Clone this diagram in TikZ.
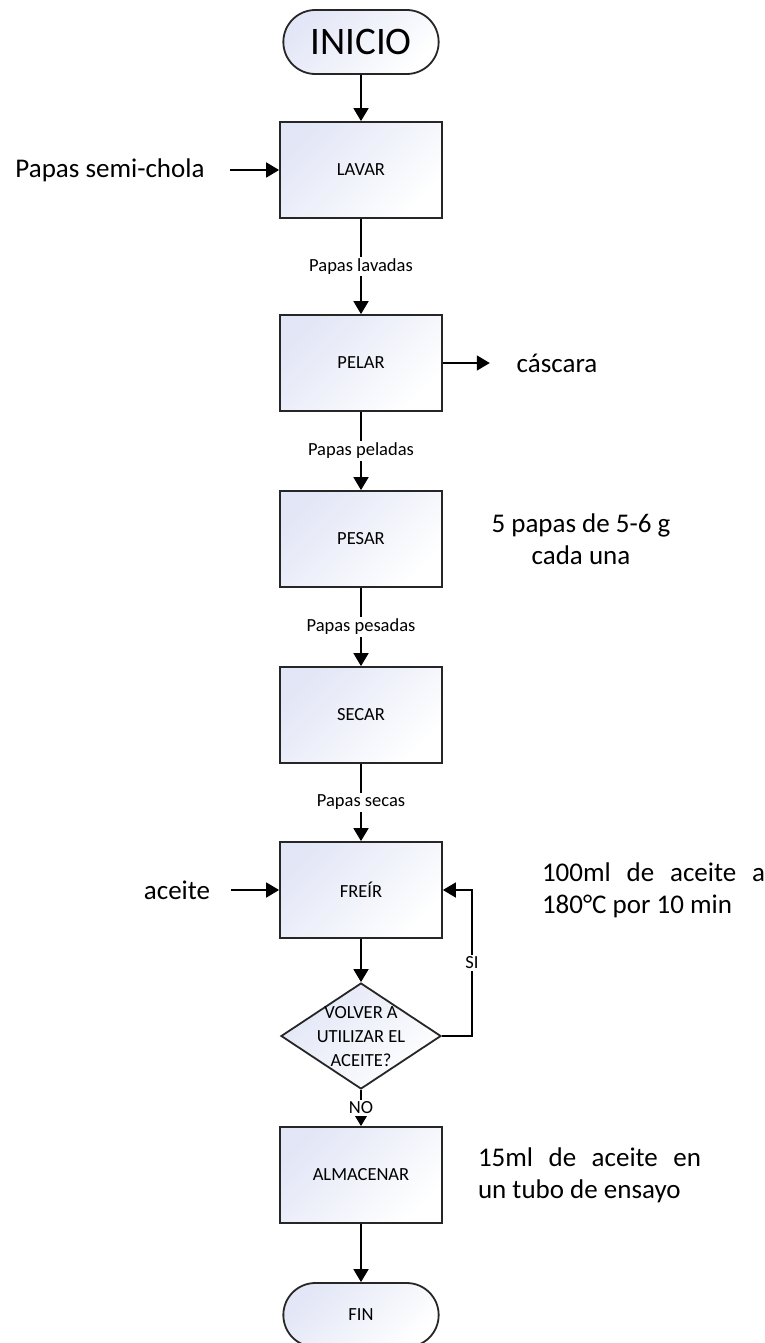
\documentclass[tikz,border=0pt]{standalone}
\usepackage{fontspec}
\setmainfont{Carlito}
\usetikzlibrary{arrows.meta,shapes.geometric,shapes.misc,positioning}

\definecolor{lila}{RGB}{226,230,246}
\newcommand{\chico}{\fontsize{18.5}{24}\selectfont}
\newcommand{\grande}{\fontsize{27}{32}\selectfont}

\begin{document}
\begin{tikzpicture}[->,>={Triangle[length=13pt,width=15pt]},x=1pt,y=-1pt,line width=1.8pt,on grid]
        \tikzstyle{proceso}=[rectangle,draw=black!85,minimum width=162pt,minimum height=96pt,font=\chico,left color=lila,right color=white,shading angle=45]
        \tikzstyle{terminal}=[rounded rectangle,draw=black!85,minimum width=162pt,minimum height=64pt,left color=lila,right color=white,shading angle=45]
        \tikzstyle{decision}=[diamond,draw=black!85,minimum width=160pt,minimum height=106pt,inner sep=0pt,left color=lila,right color=white,shading angle=45]
        \tikzstyle{etiqueta}=[fill=white,font=\chico,inner sep=2pt]
        \tikzstyle{nota}=[font=\grande,inner sep=0pt]
        \useasboundingbox (0,0) rectangle (765,1343);

        \node[terminal,font=\fontsize{39}{44}\selectfont] (inicio) at (361,42) {INICIO};
        \node[proceso]  (lavar)     [below=128pt of inicio]  {LAVAR};
        \node[proceso]  (pelar)     [below=193pt of lavar]   {PELAR};
        \node[proceso]  (pesar)     [below=176pt of pelar]   {PESAR};
        \node[proceso]  (secar)     [below=176pt of pesar]   {SECAR};
        \node[proceso]  (freir)     [below=175pt of secar]   {FREÍR};
        \node[decision] (dec)       [below=146pt of freir]   {};
        \node[align=center,font=\chico,text depth=0pt] (pregunta) at (dec) {VOLVER A\\UTILIZAR EL\\ACEITE?};
        \node[proceso]  (almacenar) [below=139pt of dec]     {ALMACENAR};
        \node[terminal,font=\chico] (fin) [below=140pt of almacenar] {FIN};

        \node[nota] (papas)   [left=251pt of lavar]  {Papas semi-chola};
        \node[nota] (cascara) [right=196pt of pelar] {cáscara};
        \node[nota] (aceite)  [left=184pt of freir]  {aceite};
        \node[nota,align=center] (peso)    [right=220pt of pesar]       {5 papas de 5-6 g\\cada una};
        \node[nota,align=left]   (cond)    [right=292.5pt of freir]     {\makebox[223pt][s]{100ml de aceite a}\\180°C por 10 min};
        \node[nota,align=left]   (guardar) [right=228.5pt of almacenar] {\makebox[223pt][s]{15ml de aceite en}\\un tubo de ensayo};

        \path (inicio)    edge                             (lavar)
              (lavar)     edge node[etiqueta] {Papas lavadas} (pelar)
              (pelar)     edge node[etiqueta] {Papas peladas} (pesar)
              (pesar)     edge node[etiqueta] {Papas pesadas} (secar)
              (secar)     edge node[etiqueta] {Papas secas}   (freir)
              (freir)     edge                             (dec)
              (dec)       edge node[etiqueta] {NO}         (almacenar)
              (almacenar) edge                             (fin)
              (papas)     edge [shorten <=25pt]            (lavar)
              (aceite)    edge [shorten <=20pt]            (freir)
              (pelar)     edge [shorten >=26pt]            (cascara);
        \draw (dec.east) -- ++(30pt,0) |- (freir.east) node[etiqueta,pos=0.25] {SI};
\end{tikzpicture}
\end{document}
